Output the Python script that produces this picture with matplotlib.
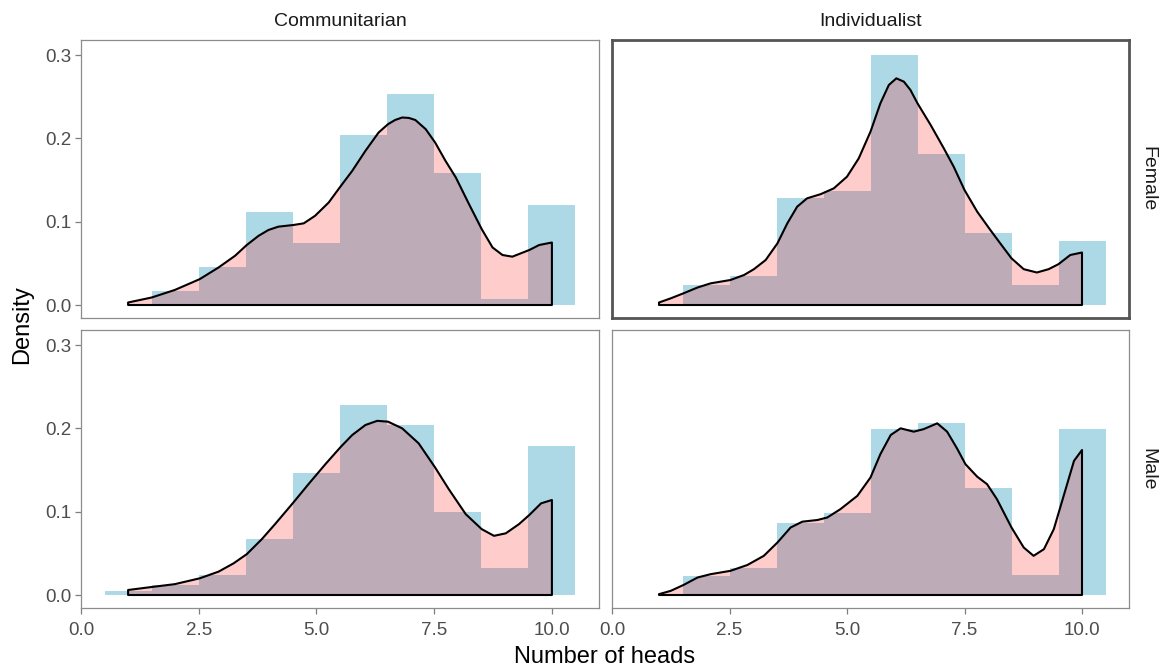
import matplotlib
matplotlib.use('Agg')
import matplotlib.pyplot as plt

plt.rcParams['font.family'] = ['Liberation Sans', 'DejaVu Sans']

bins = [1, 2, 3, 4, 5, 6, 7, 8, 9, 10]

# histogram heights (density), one list per panel
hist_comm_f = [0.0, 0.017, 0.046, 0.112, 0.074, 0.204, 0.253, 0.158, 0.007, 0.120]
hist_ind_f = [0.0, 0.024, 0.035, 0.129, 0.137, 0.300, 0.181, 0.087, 0.024, 0.077]
hist_comm_m = [0.005, 0.012, 0.024, 0.067, 0.147, 0.228, 0.204, 0.100, 0.032, 0.179]
hist_ind_m = [0.0, 0.023, 0.033, 0.087, 0.098, 0.199, 0.206, 0.128, 0.024, 0.199]

# density curves
dx_comm_f = [1.0, 1.5, 1.99, 2.52, 2.92, 3.27, 3.52, 3.77, 3.98, 4.19, 4.51, 4.73,
             4.97, 5.26, 5.52, 5.76, 6.04, 6.32, 6.52, 6.67, 6.82, 6.96, 7.1, 7.32,
             7.52, 7.74, 7.96, 8.24, 8.51, 8.74, 8.95, 9.16, 9.52, 9.73, 10.0]
dy_comm_f = [0.003, 0.009, 0.018, 0.031, 0.045, 0.059, 0.072, 0.083, 0.090, 0.094,
             0.096, 0.098, 0.107, 0.123, 0.143, 0.161, 0.185, 0.207, 0.217, 0.222,
             0.225, 0.2245, 0.222, 0.211, 0.195, 0.173, 0.153, 0.121, 0.091, 0.069,
             0.060, 0.058, 0.066, 0.072, 0.075]

dx_ind_f = [1.0, 1.25, 1.52, 1.82, 2.1, 2.52, 2.81, 3.02, 3.27, 3.52, 3.73, 3.94,
            4.15, 4.44, 4.72, 5.0, 5.25, 5.5, 5.71, 5.89, 6.05, 6.21, 6.35, 6.5,
            6.78, 7.06, 7.27, 7.5, 7.77, 8.05, 8.26, 8.5, 8.76, 9.04, 9.29, 9.5,
            9.75, 10.0]
dy_ind_f = [0.003, 0.008, 0.014, 0.021, 0.026, 0.030, 0.036, 0.043, 0.054, 0.074,
            0.098, 0.118, 0.128, 0.133, 0.140, 0.154, 0.176, 0.208, 0.242, 0.264,
            0.272, 0.268, 0.258, 0.242, 0.216, 0.188, 0.166, 0.138, 0.112, 0.090,
            0.074, 0.056, 0.043, 0.039, 0.043, 0.049, 0.060, 0.063]

dx_comm_m = [1.0, 1.5, 1.99, 2.52, 2.92, 3.24, 3.52, 3.84, 4.12, 4.51, 4.83, 5.19,
             5.52, 5.76, 6.04, 6.29, 6.52, 6.82, 7.17, 7.52, 7.81, 8.17, 8.51, 8.77,
             9.02, 9.3, 9.52, 9.77, 10.0]
dy_comm_m = [0.006, 0.0096, 0.013, 0.020, 0.028, 0.038, 0.049, 0.067, 0.085, 0.111,
             0.133, 0.157, 0.178, 0.192, 0.204, 0.209, 0.208, 0.200, 0.182, 0.153,
             0.127, 0.097, 0.079, 0.071, 0.074, 0.085, 0.096, 0.110, 0.114]

dx_ind_m = [1.0, 1.25, 1.52, 1.82, 2.1, 2.52, 2.88, 3.23, 3.52, 3.8, 4.05, 4.37,
            4.58, 4.86, 5.22, 5.5, 5.71, 5.93, 6.14, 6.42, 6.63, 6.92, 7.13, 7.34,
            7.52, 7.77, 7.98, 8.19, 8.5, 8.76, 8.97, 9.19, 9.4, 9.61, 9.83, 10.0]
dy_ind_m = [0.001, 0.005, 0.012, 0.021, 0.025, 0.029, 0.036, 0.047, 0.063, 0.081,
            0.088, 0.090, 0.093, 0.103, 0.119, 0.141, 0.169, 0.192, 0.200, 0.196,
            0.199, 0.206, 0.196, 0.176, 0.157, 0.142, 0.133, 0.115, 0.081, 0.057,
            0.047, 0.055, 0.079, 0.119, 0.161, 0.174]

cols = ["Communitarian", "Individualist"]
rows = ["Female", "Male"]
xticks = [0.0, 2.5, 5.0, 7.5, 10.0]
xlabels = ["0.0", "2.5", "5.0", "7.5", "10.0"]
yticks = [0.0, 0.1, 0.2, 0.3]
ylabels = ["0.0", "0.1", "0.2", "0.3"]

W, H = 1168, 672
fig = plt.figure(figsize=(W / 100, H / 100), dpi=100)

lefts = [81, 612]
rights = [599, 1129]
tops = [40, 330]
bottoms = [318, 608]

panels = [[(hist_comm_f, dx_comm_f, dy_comm_f), (hist_ind_f, dx_ind_f, dy_ind_f)],
          [(hist_comm_m, dx_comm_m, dy_comm_m), (hist_ind_m, dx_ind_m, dy_ind_m)]]

grey = "#4D4D4D"
for r in range(2):
    for c in range(2):
        hist, dx, dy = panels[r][c]
        ax = fig.add_axes([lefts[c] / W, 1 - bottoms[r] / H,
                           (rights[c] - lefts[c]) / W, (bottoms[r] - tops[r]) / H])
        ax.bar(bins, hist, width=1.0, color="#ADD8E6", linewidth=0)
        px = [dx[0]] + dx + [dx[-1]]
        py = [0.0] + dy + [0.0]
        ax.fill(px, py, facecolor=(1, 0, 0, 0.2), edgecolor="black", linewidth=1.5,
                joinstyle="round")
        ax.set_xlim(0, 11)
        ax.set_ylim(-0.0156, 0.318)
        ax.set_xticks(xticks)
        ax.set_yticks(yticks)
        ax.tick_params(colors="#7F7F7F", labelsize=13.5, length=4, width=0.9,
                       labelcolor=grey, pad=3)
        ax.tick_params(axis="x", pad=6)
        if r == 0:
            ax.tick_params(axis="x", bottom=False, labelbottom=False)
        else:
            ax.set_xticklabels(xlabels)
        if c == 1:
            ax.tick_params(axis="y", left=False, labelleft=False)
        else:
            ax.set_yticklabels(ylabels)
        for s in ax.spines.values():
            if r == 0 and c == 1:
                s.set_color("#555555")
                s.set_linewidth(2.0)
            else:
                s.set_color("#8C8C8C")
                s.set_linewidth(0.9)
        if r == 0:
            fig.text((lefts[c] + rights[c]) / 2 / W, 1 - 21 / H, cols[c],
                     ha="center", va="center", fontsize=14, color="#1A1A1A")
        if c == 1:
            fig.text(1148 / W, 1 - (tops[r] + bottoms[r]) / 2 / H, rows[r],
                     ha="center", va="center", rotation=270, fontsize=14,
                     color="#1A1A1A")

fig.text(605 / W, 1 - 657 / H, "Number of heads", ha="center", va="center",
         fontsize=17, color="black")
fig.text(22 / W, 1 - 325 / H, "Density", ha="center", va="center",
         rotation=90, fontsize=17, color="black")

plt.savefig("out.png", dpi=100)
plt.close()
